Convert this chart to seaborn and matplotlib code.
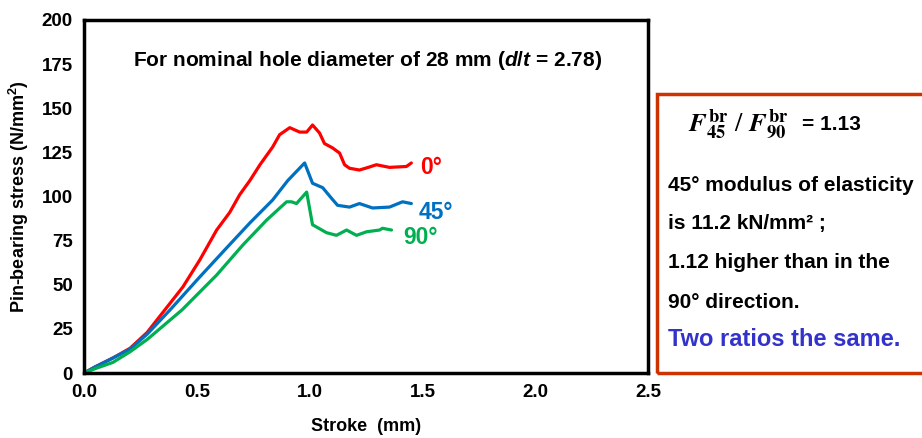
import matplotlib
matplotlib.use("Agg")
import matplotlib.pyplot as plt
import seaborn as sns
import pandas as pd
from matplotlib.patches import Rectangle

# ---- data ----
x_0 = [0, 0.05, 0.128, 0.204, 0.28, 0.358, 0.438, 0.513, 0.588, 0.646, 0.69, 0.735, 0.78, 0.836,
       0.867, 0.912, 0.956, 0.987, 1.013, 1.044, 1.066, 1.102, 1.133, 1.155, 1.177, 1.221, 1.26,
       1.296, 1.354, 1.429, 1.451]
y_0 = [0, 3.5, 8.5, 14, 23, 35.7, 48.7, 64, 81, 91, 101, 109, 118, 128, 135, 139, 136.5, 136.5,
       140.5, 136, 130, 127.5, 124.6, 118, 116, 115, 116.5, 118, 116.5, 117, 119]
x_45 = [0, 0.05, 0.128, 0.204, 0.28, 0.381, 0.513, 0.633, 0.735, 0.836, 0.903, 0.978, 1.013,
        1.058, 1.097, 1.124, 1.177, 1.221, 1.279, 1.354, 1.412, 1.451]
y_45 = [0, 3.5, 8.5, 13.5, 22, 35.7, 54.4, 71, 85, 98, 109, 119, 107.5, 105, 99, 95, 94, 96,
        93.5, 94, 97, 96]
x_90 = [0, 0.05, 0.128, 0.204, 0.28, 0.434, 0.588, 0.704, 0.81, 0.898, 0.92, 0.942, 0.987, 1.013,
        1.075, 1.119, 1.164, 1.208, 1.252, 1.31, 1.323, 1.363]
y_90 = [0, 2.5, 6, 12, 19, 35.7, 55.5, 72.5, 86.7, 97, 97, 96, 102.5, 84, 79.5, 78, 81, 78, 80,
        81, 82, 81]
series_labels = ["0°", "45°", "90°"]
x_ticks = [0.0, 0.5, 1.0, 1.5, 2.0, 2.5]
y_ticks = [0, 25, 50, 75, 100, 125, 150, 175, 200]

sns.set_theme(style="white")
plt.rcParams['font.family'] = ['Liberation Sans', 'DejaVu Sans']
plt.rcParams['mathtext.fontset'] = 'custom'
plt.rcParams['mathtext.it'] = 'Liberation Sans:italic:bold'
plt.rcParams['mathtext.bf'] = 'Liberation Sans:bold'
plt.rcParams['mathtext.rm'] = 'Liberation Sans:bold'
for k in ['text.color', 'axes.labelcolor', 'xtick.color', 'ytick.color']:
    plt.rcParams[k] = 'black'

fig = plt.figure(figsize=(9.22, 4.38), dpi=100)
ax = fig.add_axes([84/922, 1-373/438, (648-84)/922, (373-20)/438])

colors = ["#FF0000", "#0070C0", "#00B050"]
frames = []
for xs, ys, lab in [(x_0, y_0, series_labels[0]), (x_45, y_45, series_labels[1]), (x_90, y_90, series_labels[2])]:
    frames.append(pd.DataFrame({"x": xs, "y": ys, "s": lab}))
df = pd.concat(frames)
sns.lineplot(data=df, x="x", y="y", hue="s", palette=colors, sort=False, estimator=None,
             units="s", linewidth=2.3, legend=False, ax=ax)

ax.set_xlim(0, 2.5)
ax.set_ylim(0, 200)
ax.set_xticks(x_ticks)
ax.set_xticklabels([f"{v:.1f}" for v in x_ticks])
ax.set_yticks(y_ticks)
for sp in ax.spines.values():
    sp.set_color("black")
    sp.set_linewidth(2.5)
ax.tick_params(direction="in", length=5, width=2, labelsize=13.5, pad=8)
for t in ax.get_xticklabels() + ax.get_yticklabels():
    t.set_fontweight("bold")
ax.set_xlabel("Stroke  (mm)", fontsize=13, fontweight="bold", labelpad=12)
ax.set_ylabel("Pin-bearing stress (N/mm$^{2}$)", fontsize=13, fontweight="bold", labelpad=8)

ax.text(1.257, 177, "For nominal hole diameter of 28 mm ($d/t$ = 2.78)", fontsize=15,
        fontweight="bold", ha="center", va="center")

ax.text(1.54, 116.5, series_labels[0], color=colors[0], fontsize=16.5, fontweight="bold", ha="center", va="center")
ax.text(1.56, 91, series_labels[1], color=colors[1], fontsize=16.5, fontweight="bold", ha="center", va="center")
ax.text(1.49, 76.5, series_labels[2], color=colors[2], fontsize=16.5, fontweight="bold", ha="center", va="center")

# text box
fig.patches.append(Rectangle((657/922, 1-373/438), 0.35, (373-94)/438, transform=fig.transFigure,
                             fill=False, edgecolor="#CC3300", linewidth=2.5))
fig.text(688/922, 1-125/438, r"$\mathbfit{F}^{\,\mathbf{br}}_{\mathbf{45}}\ /\ \mathbfit{F}^{\,\mathbf{br}}_{\mathbf{90}}$",
         fontsize=19, ha="left", va="center", math_fontfamily="stix")
fig.text(802/922, 1-125/438, "= 1.13", fontsize=15, fontweight="bold", ha="left", va="center")
lines = ["45° modulus of elasticity", "is 11.2 kN/mm² ;", "1.12 higher than in the", "90° direction."]
ys_px = [185, 224, 263, 302]
for s, yp in zip(lines, ys_px):
    fig.text(668/922, 1-yp/438, s, fontsize=15, fontweight="bold", ha="left", va="center")
fig.text(668/922, 1-340/438, "Two ratios the same.", fontsize=17, fontweight="bold", color="#3333CC",
         ha="left", va="center")

fig.savefig("out.png", dpi=100)
